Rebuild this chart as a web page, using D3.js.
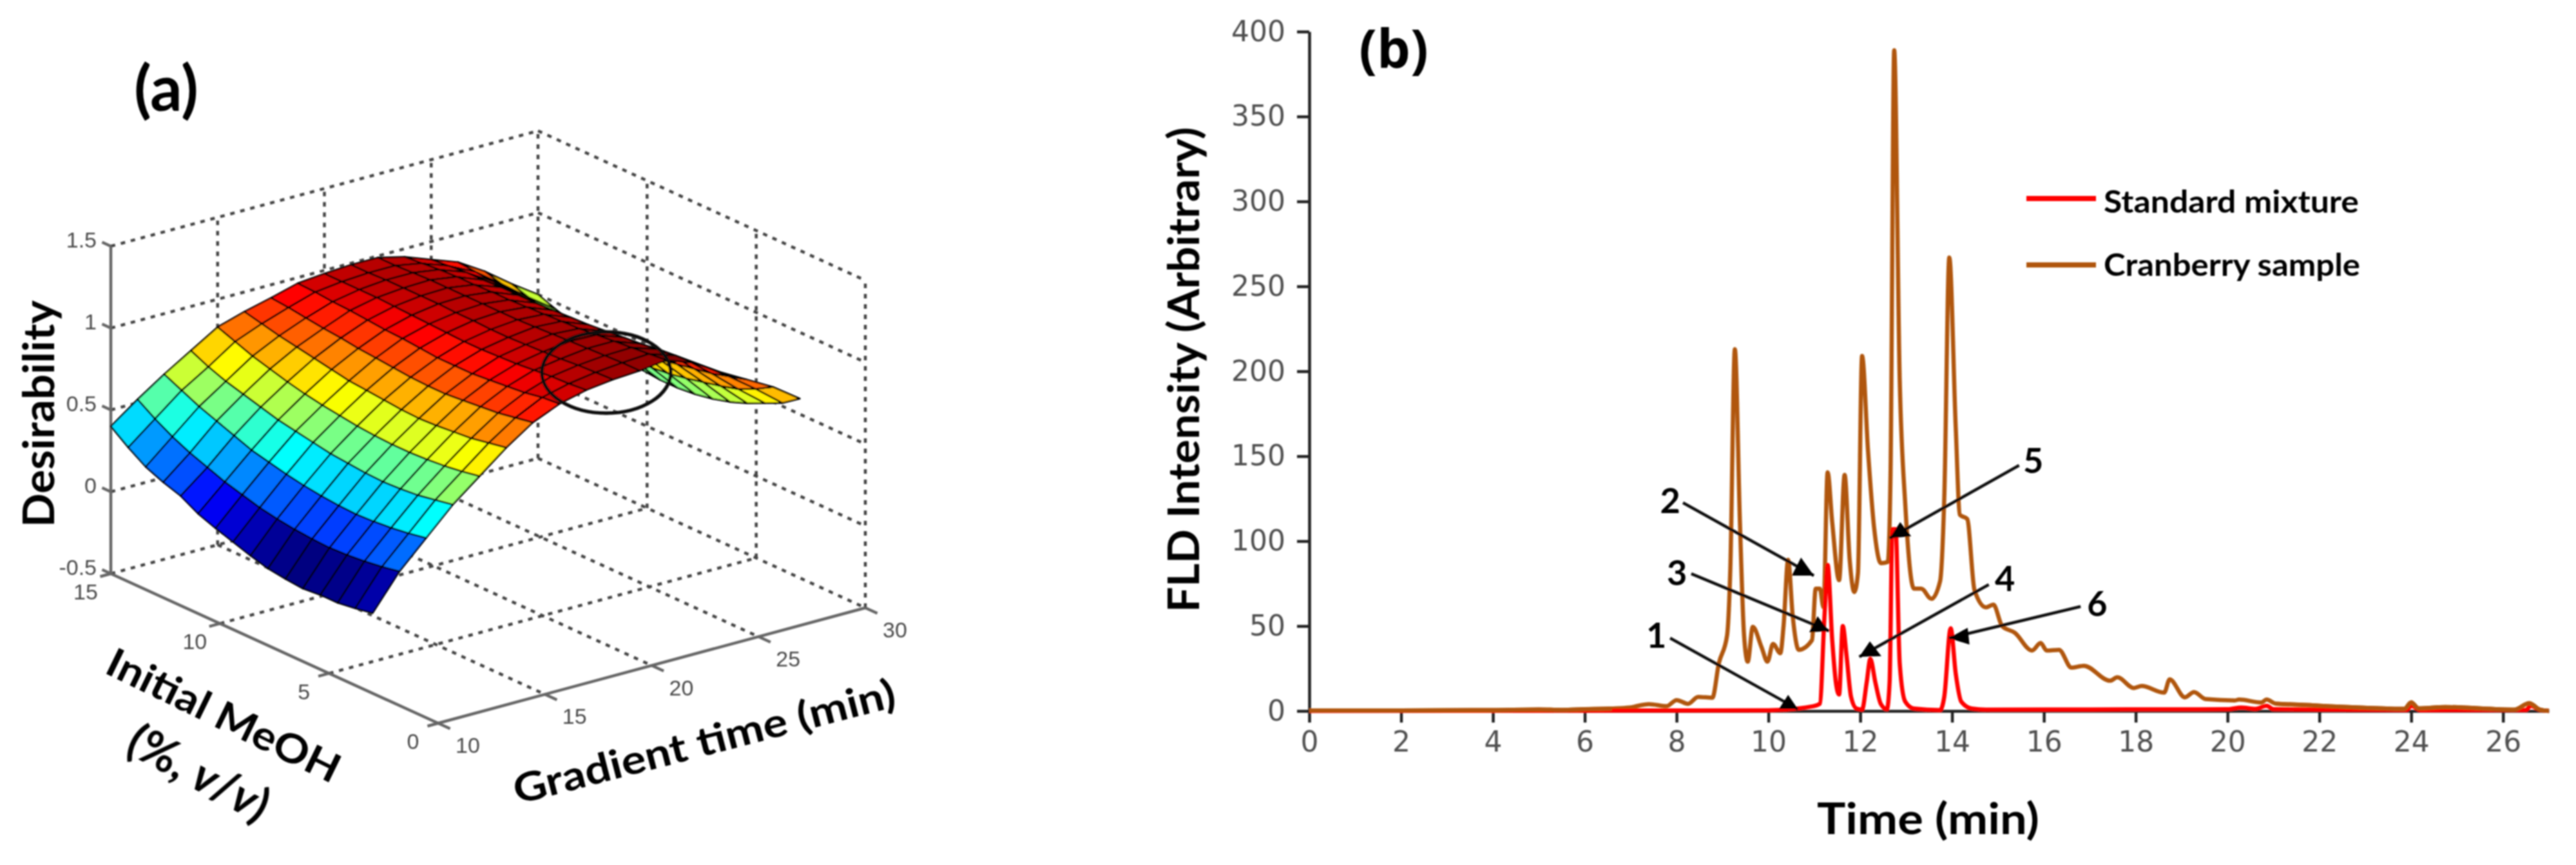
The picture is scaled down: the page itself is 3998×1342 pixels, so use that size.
<!DOCTYPE html>
<html>
<head>
<meta charset="utf-8">
<script src="https://cdnjs.cloudflare.com/ajax/libs/d3/7.8.5/d3.min.js"></script>
<style>
  html, body { margin: 0; padding: 0; background: #fff; }
  svg { display: block; }
  .title { font-family: Lato, "Open Sans", sans-serif; font-weight: 700; fill: #000; }
  .tick3d { font-family: "Liberation Sans", sans-serif; font-size: 34px; fill: #4a4a4a; }
  .axis-b text { font-family: "DejaVu Sans", sans-serif; font-size: 44px; fill: #505050; }
  .axis-b path, .axis-b line { stroke: #222; stroke-width: 4.5px; }
</style>
</head>
<body>
<div id="chart"></div>
<script>
/* Panel (a): desirability surface.  Panel (b): chromatograms */
(function (d3) {
    "use strict";

    /***** Data panel (a) *****/

    const tTicks = [10, 15, 20, 25, 30];
    const meohTicks = [0, 5, 10, 15];
    const zTicks = [-0.5, 0, 0.5, 1, 1.5];

    const gradientTimes = [10, 11.25, 12.5, 13.75, 15, 16.25, 17.5, 18.75, 20, 21.25, 22.5, 23.75, 25, 26.25, 27.5, 28.75, 30];
    const meohLevels = [3, 3.8, 4.6, 5.4, 6.2, 7, 7.8, 8.6, 9.4, 10.2, 11, 11.8, 12.6, 13.4, 14.2, 15];

    // one row per gradient time, one column per MeOH level
    const desirability = [
        [-0.01, -0.03, -0.045, -0.045, -0.055, -0.045, -0.03, 0, 0.035, 0.07, 0.11, 0.17, 0.205, 0.25, 0.32, 0.40],
        [0.20, 0.18, 0.165, 0.155, 0.15, 0.155, 0.165, 0.18, 0.20, 0.23, 0.26, 0.30, 0.34, 0.39, 0.45, 0.52],
        [0.36, 0.34, 0.325, 0.315, 0.31, 0.315, 0.325, 0.34, 0.36, 0.385, 0.41, 0.45, 0.49, 0.53, 0.58, 0.63],
        [0.52, 0.50, 0.48, 0.47, 0.465, 0.47, 0.48, 0.49, 0.51, 0.53, 0.55, 0.58, 0.61, 0.64, 0.68, 0.73],
        [0.65, 0.63, 0.615, 0.605, 0.60, 0.60, 0.605, 0.615, 0.63, 0.645, 0.665, 0.69, 0.72, 0.75, 0.79, 0.83],
        [0.78, 0.76, 0.74, 0.73, 0.72, 0.715, 0.72, 0.73, 0.74, 0.75, 0.77, 0.79, 0.81, 0.83, 0.855, 0.88],
        [0.89, 0.87, 0.85, 0.84, 0.83, 0.82, 0.82, 0.825, 0.835, 0.845, 0.855, 0.87, 0.88, 0.895, 0.91, 0.92],
        [0.96, 0.95, 0.93, 0.92, 0.91, 0.90, 0.90, 0.90, 0.91, 0.92, 0.925, 0.935, 0.945, 0.95, 0.96, 0.965],
        [1.00, 0.99, 0.985, 0.975, 0.965, 0.96, 0.955, 0.955, 0.96, 0.965, 0.97, 0.975, 0.98, 0.98, 0.98, 0.98],
        [1.02, 1.015, 1.01, 1.00, 0.995, 0.99, 0.985, 0.985, 0.99, 0.99, 0.995, 0.995, 0.995, 0.995, 0.99, 0.99],
        [1.03, 1.03, 1.025, 1.02, 1.015, 1.01, 1.005, 1.0, 1.0, 1.0, 1.0, 1.0, 1.0, 0.995, 0.99, 0.99],
        [1.05, 1.04, 1.03, 1.02, 1.01, 1.0, 0.995, 0.99, 0.985, 0.98, 0.98, 0.975, 0.975, 0.97, 0.96, 0.95],
        [0.99, 0.985, 0.975, 0.96, 0.95, 0.94, 0.93, 0.925, 0.92, 0.915, 0.915, 0.915, 0.91, 0.91, 0.90, 0.89],
        [0.89, 0.88, 0.87, 0.86, 0.845, 0.83, 0.82, 0.81, 0.805, 0.80, 0.80, 0.80, 0.805, 0.81, 0.82, 0.83],
        [0.80, 0.77, 0.74, 0.72, 0.70, 0.68, 0.665, 0.655, 0.65, 0.65, 0.65, 0.655, 0.665, 0.68, 0.70, 0.73],
        [0.71, 0.65, 0.60, 0.57, 0.545, 0.52, 0.50, 0.49, 0.485, 0.485, 0.49, 0.50, 0.52, 0.54, 0.575, 0.61],
        [0.595, 0.52, 0.47, 0.42, 0.38, 0.35, 0.33, 0.32, 0.32, 0.33, 0.35, 0.37, 0.405, 0.425, 0.46, 0.50]
    ];

    /***** Data panel (b) *****/

    const timeTicks = [0, 2, 4, 6, 8, 10, 12, 14, 16, 18, 20, 22, 24, 26];
    const intensityTicks = [0, 50, 100, 150, 200, 250, 300, 350, 400];

    const cranberry = [
        [0, 0.3], [2, 0.3], [4, 0.5], [5, 0.9], [5.5, 0.6], [6, 1], [6.59, 1.4], [6.97, 2], [7.4, 4], [7.78, 2.8], [8, 6.4],
        [8.25, 4.2], [8.47, 8.3], [8.78, 7.8], [8.92, 28], [9.1, 44.5], [9.17, 83], [9.27, 213], [9.38, 111], [9.47, 44.5],
        [9.55, 29], [9.66, 49.5], [9.85, 37.6], [9.98, 29], [10.1, 39.5], [10.26, 34], [10.33, 50], [10.43, 89], [10.53, 55.7],
        [10.66, 36], [10.95, 41.7], [11.03, 72], [11.12, 72], [11.2, 61], [11.29, 140.5], [11.39, 111], [11.54, 77],
        [11.66, 139], [11.77, 89], [11.87, 70], [11.95, 81], [12.04, 209], [12.17, 153], [12.3, 108.5], [12.45, 87],
        [12.6, 87.7], [12.66, 139], [12.74, 389], [12.86, 195], [12.98, 122], [13.17, 72], [13.33, 72], [13.55, 66],
        [13.74, 76.5], [13.83, 125], [13.94, 267], [14.08, 167], [14.17, 115.5], [14.33, 113], [14.49, 71], [14.74, 61],
        [14.9, 62.6], [15.09, 50], [15.37, 46], [15.74, 35.6], [15.93, 40], [16.06, 35.6], [16.33, 36], [16.6, 25.5],
        [16.87, 26.6], [17.44, 17.8], [17.6, 19.8], [17.96, 13.5], [18.13, 14.7], [18.62, 10.8], [18.74, 18.6], [19.07, 8],
        [19.27, 11.1], [19.52, 7], [20.16, 6.2], [20.25, 6.7], [20.74, 5], [20.85, 6.7], [21.05, 4.3], [21.8, 3.4],
        [22.2, 2.8], [22.96, 1.9], [23.85, 1.2], [24, 5], [24.16, 1.5], [24.74, 2.3], [26.25, 0.8], [26.57, 4.6], [26.8, 0.8], [27, 0]
    ];

    const standardMix = [
        [0, 0], [6, 0.2], [8, 0.3], [10, 0.4], [10.98, 2.8], [11.12, 4.2], [11.22, 55], [11.29, 86], [11.39, 41.7], [11.47, 16.7],
        [11.54, 9.7], [11.62, 50], [11.7, 33], [11.8, 8.3], [11.92, 1.4], [12.04, 0.8], [12.14, 16.7], [12.22, 30.6],
        [12.33, 16.7], [12.45, 4], [12.58, 1], [12.64, 17], [12.7, 107], [12.77, 107], [12.86, 28], [12.98, 5.5],
        [13.17, 1.4], [13.74, 0.5], [13.83, 8.3], [13.97, 48.7], [14.08, 22], [14.2, 5.5], [14.43, 1.4], [14.74, 0.8],
        [17, 0.9], [20, 1], [20.3, 2], [20.6, 1.2], [20.85, 3], [21, 1], [23.9, 0.6], [24, 3], [24.2, 0.5], [26.5, 0.6], [26.6, 3], [26.8, 0.6], [27, 0]
    ];

    const peakLabels = ["1", "2", "3", "4", "5", "6"];
    const peakLabelAt = [[7.56, 44.4], [7.86, 123.7], [8.01, 81.2], [15.15, 77.8], [15.77, 147.2], [17.16, 63]];
    const arrowTails = [[7.86, 42.9], [8.14, 122.6], [8.32, 80.8], [14.8, 74.4], [15.46, 144.6], [16.8, 61.5]];
    const arrowHeads = [
        [[10.64, 1.1], [10.43, 9.5], [10.23, 1.1]],
        [[10.99, 79.7], [10.71, 90.3], [10.51, 79.7]],
        [[11.32, 47.1], [11.07, 55.8], [10.89, 46.3]],
        [[11.98, 31.9], [12.21, 41], [12.46, 32.3]],
        [[12.64, 101.7], [12.87, 111.2], [13.11, 102.8]],
        [[13.93, 42.9], [14.34, 49], [14.38, 39.1]]
    ];

    /***** Page *****/

    const width = 3998, height = 1342;

    var svg = d3.select("#chart").append("svg")
        .attr("width", width)
        .attr("height", height)
        .style("background", "#fff");

    svg.append("defs").append("filter")
        .attr("id", "soft")
        .attr("filterUnits", "userSpaceOnUse")
        .attr("x", 0).attr("y", 0).attr("width", width).attr("height", height)
        .append("feGaussianBlur")
        .attr("stdDeviation", 1);

    var root = svg.append("g").attr("filter", "url(#soft)");

    /***** Panel (a) *****/

    var a = root.append("g");

    // orthographic view: each data axis adds its own screen offset to the corner (t=10, MeOH=0, z=-0.5)
    var originX = 680, originY = 1122;
    var tX = d3.scaleLinear().domain([10, 30]).range([0, 663]);
    var tY = d3.scaleLinear().domain([10, 30]).range([0, -179]);
    var mX = d3.scaleLinear().domain([0, 15]).range([0, -508]);
    var mY = d3.scaleLinear().domain([0, 15]).range([0, -232]);
    var zY = d3.scaleLinear().domain([-0.5, 1.5]).range([0, -508]);

    function project(t, m, z) {
        return [originX + tX(t) + mX(m), originY + tY(t) + mY(m) + zY(z)];
    }

    var jet = d3.scaleLinear()
        .domain([-0.055, 0.083, 0.359, 0.636, 0.912, 1.05])
        .range(["#000080", "#0000ff", "#00ffff", "#ffff00", "#ff0000", "#800000"])
        .clamp(true);

    // grid on the two back walls and the floor
    var gridSegments = [];
    zTicks.forEach(function (z) {
        gridSegments.push([project(10, 15, z), project(30, 15, z)]);
        gridSegments.push([project(30, 15, z), project(30, 0, z)]);
    });
    tTicks.forEach(function (t) {
        if (t > 10) gridSegments.push([project(t, 15, -0.5), project(t, 15, 1.5)]);
        if (t > 10 && t < 30) gridSegments.push([project(t, 15, -0.5), project(t, 0, -0.5)]);
    });
    meohTicks.forEach(function (m) {
        if (m < 15) gridSegments.push([project(30, m, -0.5), project(30, m, 1.5)]);
        if (m > 0 && m < 15) gridSegments.push([project(10, m, -0.5), project(30, m, -0.5)]);
    });

    a.append("g").selectAll("line").data(gridSegments).join("line")
        .attr("x1", d => d[0][0]).attr("y1", d => d[0][1])
        .attr("x2", d => d[1][0]).attr("y2", d => d[1][1])
        .attr("stroke", "#444")
        .attr("stroke-width", 4.5)
        .attr("stroke-dasharray", "7 9");

    // solid axis lines
    var axisSegments = [
        [project(10, 15, -0.5), project(10, 15, 1.5)],
        [project(10, 15, -0.5), project(10, 0, -0.5)],
        [project(10, 0, -0.5), project(30, 0, -0.5)]
    ];
    tTicks.forEach(t => axisSegments.push([project(t, 0, -0.5), project(t, -0.55, -0.5)]));
    meohTicks.forEach(m => axisSegments.push([project(10, m, -0.5), project(9.5, m, -0.5)]));
    zTicks.forEach(z => axisSegments.push([project(10, 15, z), project(10, 15.4, z)]));

    a.append("g").selectAll("line").data(axisSegments).join("line")
        .attr("x1", d => d[0][0]).attr("y1", d => d[0][1])
        .attr("x2", d => d[1][0]).attr("y2", d => d[1][1])
        .attr("stroke", "#666")
        .attr("stroke-width", 4.5);

    // surface cells, far corner first so that the near ones cover them
    var cells = [];
    for (let i = gradientTimes.length - 2; i >= 0; i--) {
        for (let j = meohLevels.length - 2; j >= 0; j--) {
            cells.push({
                z: desirability[i][j],
                points: [[i, j], [i + 1, j], [i + 1, j + 1], [i, j + 1]].map(function (c) {
                    return project(gradientTimes[c[0]], meohLevels[c[1]], desirability[c[0]][c[1]]);
                })
            });
        }
    }

    a.append("g").selectAll("polygon").data(cells).join("polygon")
        .attr("points", d => d.points.join(" "))
        .attr("fill", d => jet(d.z))
        .attr("stroke", "#000")
        .attr("stroke-width", 2.6)
        .attr("stroke-linejoin", "round");

    // circled region
    a.append("ellipse")
        .attr("cx", 941).attr("cy", 578)
        .attr("rx", 100).attr("ry", 63)
        .attr("fill", "none")
        .attr("stroke", "#111")
        .attr("stroke-width", 5.5);

    // tick labels
    a.append("g").selectAll("text").data(zTicks).join("text")
        .attr("class", "tick3d")
        .attr("text-anchor", "end")
        .attr("x", 150)
        .attr("y", d => project(10, 15, d)[1] + 2)
        .text(d => d);

    a.append("g").selectAll("text").data(meohTicks).join("text")
        .attr("class", "tick3d")
        .attr("text-anchor", "middle")
        .attr("x", d => project(10, d, -0.5)[0] - 39)
        .attr("y", d => project(10, d, -0.5)[1] + 40)
        .text(d => d);

    a.append("g").selectAll("text").data(tTicks).join("text")
        .attr("class", "tick3d")
        .attr("text-anchor", "middle")
        .attr("x", d => project(d, 0, -0.5)[0] + 46)
        .attr("y", d => project(d, 0, -0.5)[1] + 46)
        .text(d => d);

    // titles
    a.append("text").attr("class", "title")
        .attr("x", 258).attr("y", 172)
        .attr("text-anchor", "middle")
        .style("font-size", "98px")
        .text("(a)");

    a.append("text").attr("class", "title")
        .attr("transform", "translate(84,818) rotate(-90)")
        .attr("textLength", 352)
        .attr("lengthAdjust", "spacingAndGlyphs")
        .style("font-size", "66px")
        .text("Desirability");

    a.append("text").attr("class", "title")
        .attr("transform", "translate(160,1043) rotate(26)")
        .attr("textLength", 395)
        .attr("lengthAdjust", "spacingAndGlyphs")
        .style("font-size", "62px")
        .text("Initial MeOH");

    var meohUnit = a.append("text").attr("class", "title")
        .attr("transform", "translate(192,1166) rotate(28)")
        .style("font-size", "72px");
    meohUnit.append("tspan").text("(%, ");
    meohUnit.append("tspan").style("font-style", "italic").text("v");
    meohUnit.append("tspan").text("/");
    meohUnit.append("tspan").style("font-style", "italic").text("v");
    meohUnit.append("tspan").text(")");

    a.append("text").attr("class", "title")
        .attr("transform", "translate(803,1248) rotate(-14.5)")
        .attr("textLength", 610)
        .attr("lengthAdjust", "spacingAndGlyphs")
        .style("font-size", "62px")
        .text("Gradient time (min)");

    /***** Panel (b) *****/

    var b = root.append("g");

    var x = d3.scaleLinear().domain([0, 27]).range([2032, 3956]);
    var y = d3.scaleLinear().domain([0, 400]).range([1103, 49]);

    var xAxis = d3.axisBottom(x).tickValues(timeTicks).tickSize(18).tickSizeOuter(0).tickPadding(14);
    var yAxis = d3.axisLeft(y).tickValues(intensityTicks).tickSize(19).tickSizeOuter(0).tickPadding(18);

    b.append("g")
        .attr("class", "axis-b")
        .attr("transform", "translate(0," + y(0) + ")")
        .call(xAxis);

    b.append("g")
        .attr("class", "axis-b")
        .attr("transform", "translate(" + x(0) + ",0)")
        .call(yAxis);

    var line = d3.line()
        .x(d => x(d[0]))
        .y(d => y(d[1]))
        .curve(d3.curveMonotoneX);

    function drawTrace(points, color) {
        b.append("path")
            .attr("d", line(points))
            .attr("fill", "none")
            .attr("stroke", color)
            .attr("stroke-width", 6.5)
            .attr("stroke-linejoin", "round");
    }

    const red = "#ff0000", brown = "#b0560f";
    drawTrace(cranberry, brown);
    drawTrace(standardMix, red);
    // outside the peaks the cranberry trace lies over the standard one
    drawTrace(cranberry.filter(d => d[0] <= 6.6), brown);
    drawTrace(cranberry.filter(d => d[0] >= 21.05), brown);

    // numbered arrows
    b.append("g").selectAll("line").data(arrowTails).join("line")
        .attr("x1", d => x(d[0])).attr("y1", d => y(d[1]))
        .attr("x2", (d, i) => x(arrowHeads[i][0][0])).attr("y2", (d, i) => y(arrowHeads[i][0][1]))
        .attr("stroke", "#111")
        .attr("stroke-width", 4.5);

    b.append("g").selectAll("polygon").data(arrowHeads).join("polygon")
        .attr("points", d => d.map(p => [x(p[0]), y(p[1])]).join(" "))
        .attr("fill", "#000");

    b.append("g").selectAll("text").data(peakLabels).join("text")
        .attr("class", "title")
        .attr("text-anchor", "middle")
        .attr("x", (d, i) => x(peakLabelAt[i][0]))
        .attr("y", (d, i) => y(peakLabelAt[i][1]) + 19)
        .style("font-size", "54px")
        .text(d => d);

    // legend
    var legendRows = [["Standard mixture", red, 308, 330, 396], ["Cranberry sample", brown, 411, 428, 398]];
    var legend = b.append("g").selectAll("g").data(legendRows).join("g");
    legend.append("line")
        .attr("x1", 3145).attr("x2", 3253)
        .attr("y1", d => d[2]).attr("y2", d => d[2])
        .attr("stroke", d => d[1])
        .attr("stroke-width", 8);
    legend.append("text").attr("class", "title")
        .attr("x", 3265).attr("y", d => d[3])
        .attr("textLength", d => d[4])
        .attr("lengthAdjust", "spacingAndGlyphs")
        .style("font-size", "48px")
        .text(d => d[0]);

    // titles
    b.append("text").attr("class", "title")
        .attr("x", 2163).attr("y", 105)
        .attr("text-anchor", "middle")
        .style("font-family", "'Open Sans', sans-serif")
        .style("font-size", "82px")
        .text("(b)");

    b.append("text").attr("class", "title")
        .attr("transform", "translate(1861,950) rotate(-90)")
        .attr("textLength", 753)
        .attr("lengthAdjust", "spacingAndGlyphs")
        .style("font-size", "66px")
        .text("FLD Intensity (Arbitrary)");

    b.append("text").attr("class", "title")
        .attr("x", 2820).attr("y", 1294)
        .attr("textLength", 345)
        .attr("lengthAdjust", "spacingAndGlyphs")
        .style("font-size", "66px")
        .text("Time (min)");

})(d3);
</script>
</body>
</html>
